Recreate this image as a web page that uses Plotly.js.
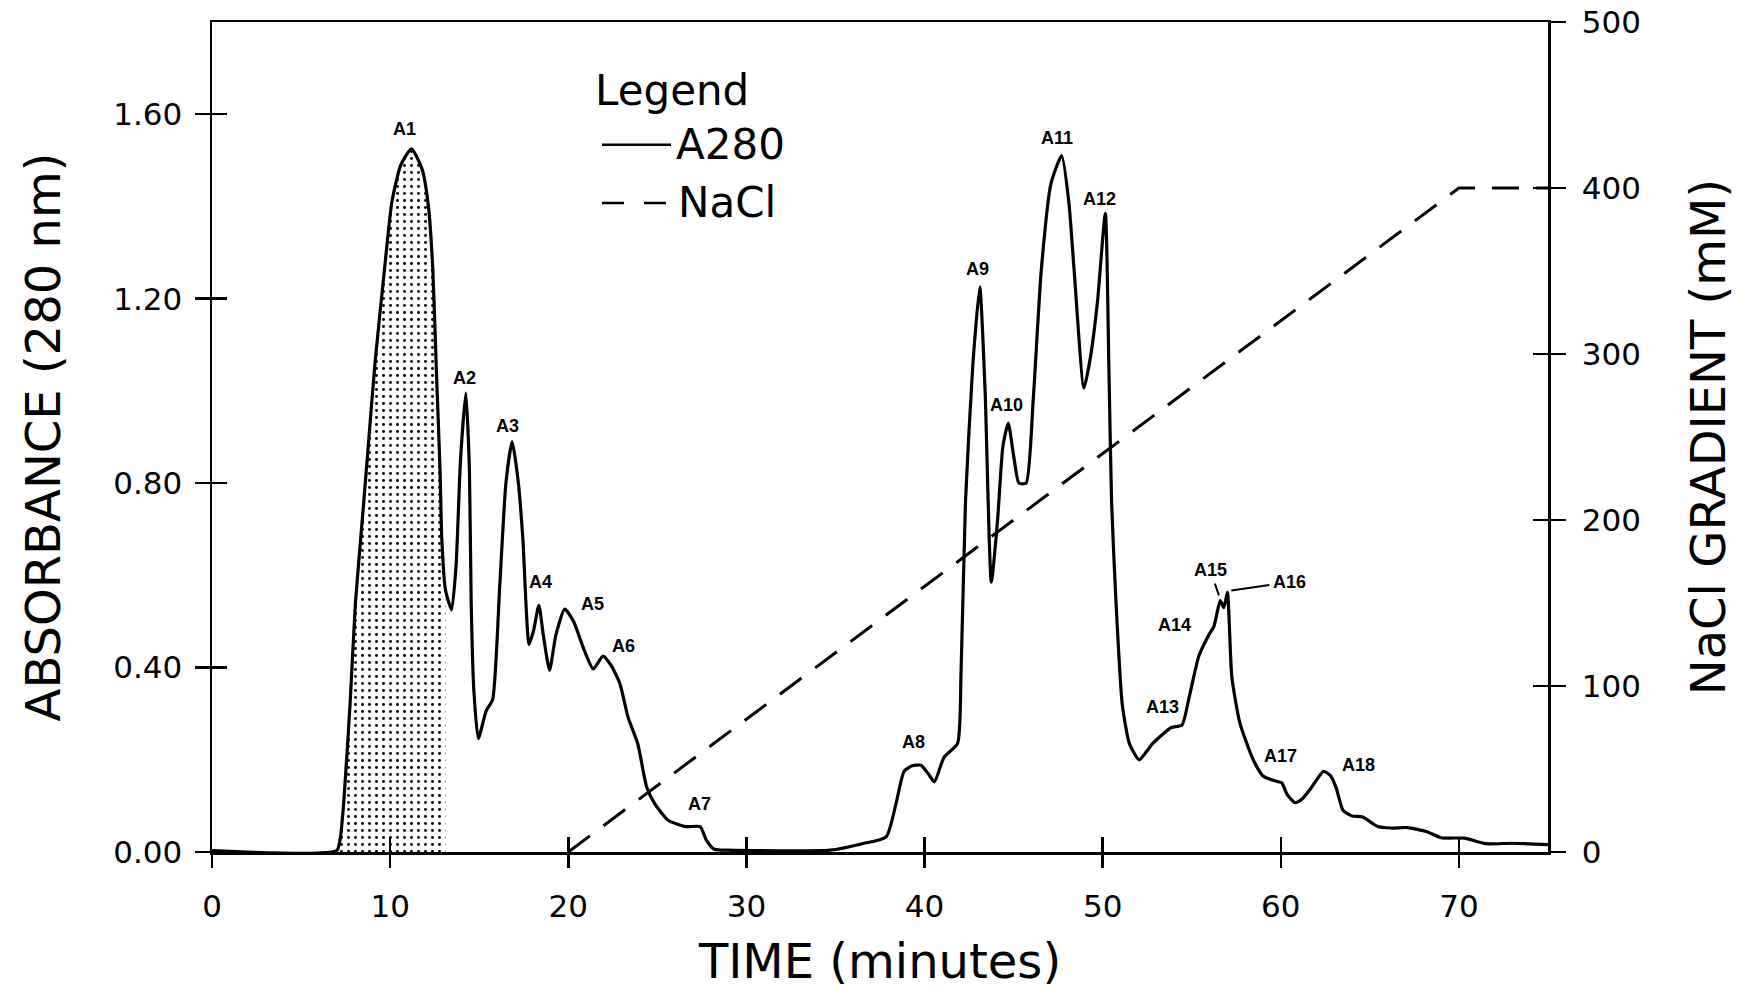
<!DOCTYPE html>
<html>
<head>
<meta charset="utf-8">
<script src="https://cdn.plot.ly/plotly-3.0.1.min.js"></script>
<style>
  html, body { margin: 0; padding: 0; background: #fff; }
  #chart { width: 1746px; height: 997px; }
</style>
</head>
<body>
<div id="chart"></div>
<script>
// ---- Data ----
const time = [0, 7.0, 7.2, 7.4, 7.75, 8.05, 8.5, 8.75, 9.15, 9.7, 10.1, 10.6, 11.2, 11.8, 12.15, 12.4, 12.6, 12.8, 12.9, 13.1,
  13.45, 13.7, 13.95, 14.25, 14.45, 14.55, 14.7, 14.95, 15.4, 15.75, 16.15, 16.5, 16.85, 17.2, 17.45, 17.8, 18.05, 18.35, 18.6,
  18.95, 19.3, 19.8, 20.3, 20.9, 21.4, 21.95, 22.4, 22.9, 23.35, 23.9, 24.4, 24.85, 25.6, 26.6, 27.4, 27.75, 28.2, 29.0, 34.7,
  36.5, 37.85, 38.4, 38.85, 39.3, 39.8, 40.2, 40.55, 41.1, 41.85, 42.05, 42.3, 42.7, 43.1, 43.4, 43.75, 44.1, 44.4, 44.7, 45.0,
  45.3, 45.7, 46.1, 46.55, 47.1, 47.7, 48.1, 48.4, 48.95, 49.3, 49.7, 50.15, 50.35, 50.5, 50.75, 51.1, 51.5, 52.05, 52.8, 53.85,
  54.45, 54.85, 55.4, 55.95, 56.25, 56.6, 56.8, 57.0, 57.25, 57.7, 58.45, 59.0, 59.6, 60.05, 60.35, 60.8, 61.2, 61.65, 62.4,
  62.8, 63.1, 63.5, 64.0, 64.6, 65.4, 66.2, 67.1, 68.2, 69.0, 70.3, 71.5, 73.0, 75.0];
const absorbance = [0.003, 0.003, 0.03, 0.11, 0.32, 0.54, 0.75, 0.87, 1.06, 1.27, 1.41, 1.49, 1.525, 1.48, 1.40, 1.26, 1.04, 0.83, 0.68, 0.57,
  0.525, 0.62, 0.85, 0.995, 0.83, 0.54, 0.35, 0.246, 0.307, 0.33, 0.575, 0.80, 0.89, 0.80, 0.68, 0.45, 0.48, 0.535, 0.47,
  0.394, 0.47, 0.527, 0.50, 0.437, 0.397, 0.425, 0.405, 0.365, 0.293, 0.235, 0.141, 0.105, 0.069, 0.055, 0.055, 0.026, 0.006, 0.004, 0.004,
  0.018, 0.033, 0.105, 0.175, 0.187, 0.188, 0.17, 0.152, 0.206, 0.235, 0.39, 0.76, 1.05, 1.225, 1.0, 0.585, 0.72, 0.88, 0.93, 0.86,
  0.80, 0.80, 0.98, 1.26, 1.45, 1.51, 1.41, 1.26, 1.006, 1.07, 1.19, 1.385, 1.05, 0.76, 0.54, 0.32, 0.235, 0.20, 0.235, 0.27,
  0.275, 0.335, 0.425, 0.47, 0.49, 0.545, 0.53, 0.563, 0.38, 0.28, 0.20, 0.165, 0.155, 0.15, 0.125, 0.107, 0.115, 0.136, 0.175,
  0.165, 0.14, 0.09, 0.078, 0.076, 0.056, 0.052, 0.053, 0.044, 0.031, 0.03, 0.018, 0.019, 0.016];

const naclTime = [20, 70, 75];
const naclConc = [0, 400, 400];

const shadedStart = 7.0;   // pooled fraction A1 (stippled)
const shadedEnd = 13.1;

const peakNames = ['A1','A2','A3','A4','A5','A6','A7','A8','A9','A10','A11','A12','A13','A14','A15','A16','A17','A18'];

const xTicks = [0, 10, 20, 30, 40, 50, 60, 70];
const yTicks = [0, 0.4, 0.8, 1.2, 1.6];
const yTickText = ['0.00', '0.40', '0.80', '1.20', '1.60'];
const y2Ticks = [0, 100, 200, 300, 400, 500];

// ---- label placement (layout only) ----
const labelX = [10.79, 14.17, 16.61, 18.42, 21.36, 23.11, 27.36, 39.36, 42.99, 44.62, 47.43, 49.8, 53.37, 54.05, 56.6, 57.0, 60.0, 64.37];
const labelY = [1.567, 1.029, 0.923, 0.585, 0.537, 0.447, 0.105, 0.239, 1.265, 0.97, 1.548, 1.416, 0.314, 0.492, 0.548, 0.566, 0.208, 0.188];
const labelArrow = {A15: [-10, -29], A16: [62, -9]};

// ---- traces ----
const fx = [], fy = [];
time.forEach((t, i) => { if (t >= shadedStart && t <= shadedEnd) { fx.push(t); fy.push(absorbance[i]); } });

const lineStyle = {color: '#000', width: 3.2, shape: 'spline', smoothing: 0.55};

const traces = [
  {x: fx, y: fy, type: 'scatter', mode: 'lines', fill: 'tozeroy',
   line: {color: 'rgba(0,0,0,0)', width: 0, shape: 'spline', smoothing: 0.55},
   fillcolor: '#fff',
   fillpattern: {shape: '.', fgcolor: '#000', bgcolor: '#fff', size: 7, solidity: 0.14},
   showlegend: false, hoverinfo: 'skip'},
  {x: time, y: absorbance, type: 'scatter', mode: 'lines', name: 'A280', line: lineStyle, showlegend: false},
  {x: naclTime, y: naclConc, type: 'scatter', mode: 'lines', name: 'NaCl', yaxis: 'y2',
   line: {color: '#000', width: 3, dash: '27px,17px'}, showlegend: false},
  // empty helpers so that the inner-tick axes get drawn
  {x: [null], y: [null], xaxis: 'x3', yaxis: 'y', type: 'scatter', mode: 'lines', showlegend: false, hoverinfo: 'skip'},
  {x: [null], y: [null], xaxis: 'x', yaxis: 'y3', type: 'scatter', mode: 'lines', showlegend: false, hoverinfo: 'skip'},
  {x: [null], y: [null], xaxis: 'x', yaxis: 'y4', type: 'scatter', mode: 'lines', showlegend: false, hoverinfo: 'skip'}
];

const FONT = 'DejaVu Sans, Liberation Sans, sans-serif';
const tickFont = {family: FONT, size: 31, color: '#000'};
const titleFont = {family: FONT, size: 48, color: '#000'};

const annotations = peakNames.map((n, i) => {
  const a = {x: labelX[i], y: labelY[i], xref: 'x', yref: 'y', text: n, showarrow: false,
    font: {family: 'Liberation Sans, Arial, sans-serif', size: 18, color: '#000', weight: 'bold'}};
  if (labelArrow[n]) {
    a.showarrow = true; a.arrowhead = 0; a.arrowwidth = 2; a.arrowcolor = '#000';
    a.ax = labelArrow[n][0]; a.ay = labelArrow[n][1]; a.standoff = 4; a.startstandoff = 2;
  }
  return a;
});

// in-plot legend (as drawn in the original figure)
const legFont = {family: FONT, size: 42, color: '#000'};
annotations.push(
  {xref: 'paper', yref: 'paper', x: 0.2852, y: 0.918, xanchor: 'left', yanchor: 'middle', text: 'Legend', showarrow: false, font: legFont},
  {xref: 'paper', yref: 'paper', x: 0.3455, y: 0.852, xanchor: 'left', yanchor: 'middle', text: 'A280', showarrow: false, font: legFont},
  {xref: 'paper', yref: 'paper', x: 0.3475, y: 0.782, xanchor: 'left', yanchor: 'middle', text: 'NaCl', showarrow: false, font: legFont}
);
const shapes = [
  {type: 'line', xref: 'paper', yref: 'paper', x0: 0.2919, x1: 0.3436, y0: 0.852, y1: 0.852, line: {color: '#000', width: 2.5}},
  {type: 'line', xref: 'paper', yref: 'paper', x0: 0.2919, x1: 0.3400, y0: 0.782, y1: 0.782, line: {color: '#000', width: 2.5, dash: '22px,20px'}}
];

const axisCommon = {showgrid: false, zeroline: false, tickcolor: '#000', tickwidth: 2.5, linecolor: '#000', linewidth: 2.5};

const layout = {
  width: 1746, height: 997,
  paper_bgcolor: '#fff', plot_bgcolor: '#fff',
  margin: {l: 212, r: 198, t: 22, b: 145},
  showlegend: false,
  xaxis: Object.assign({}, axisCommon, {
    range: [0, 75], tickvals: xTicks, ticks: 'outside', ticklen: 13, showline: true, mirror: true,
    tickfont: tickFont, ticklabelstandoff: 12,
    title: {text: 'TIME (minutes)', font: titleFont, standoff: 22}
  }),
  xaxis3: Object.assign({}, axisCommon, {
    overlaying: 'x', anchor: 'y', side: 'bottom', range: [0, 75], tickvals: xTicks, ticks: 'inside', ticklen: 15,
    showticklabels: false, showline: false
  }),
  yaxis: Object.assign({}, axisCommon, {
    range: [0, 1.8], tickvals: yTicks, ticktext: yTickText, ticks: 'outside', ticklen: 15, showline: true,
    tickfont: tickFont, ticklabelstandoff: 6,
    title: {text: 'ABSORBANCE (280 nm)', font: titleFont, standoff: 38}
  }),
  yaxis3: Object.assign({}, axisCommon, {
    overlaying: 'y', anchor: 'x', side: 'left', range: [0, 1.8], tickvals: yTicks, ticks: 'inside', ticklen: 15,
    showticklabels: false, showline: false
  }),
  yaxis2: Object.assign({}, axisCommon, {
    overlaying: 'y', anchor: 'x', side: 'right', range: [0, 500], tickvals: y2Ticks, ticks: 'outside', ticklen: 15,
    showline: true, tickfont: tickFont, ticklabelstandoff: 10,
    title: {text: 'NaCl GRADIENT (mM)', font: titleFont, standoff: 52}
  }),
  yaxis4: Object.assign({}, axisCommon, {
    overlaying: 'y', anchor: 'x', side: 'right', range: [0, 500], tickvals: y2Ticks, ticks: 'inside', ticklen: 15,
    showticklabels: false, showline: false
  }),
  annotations: annotations,
  shapes: shapes
};

Plotly.newPlot('chart', traces, layout, {staticPlot: true, displayModeBar: false});
</script>
</body>
</html>
